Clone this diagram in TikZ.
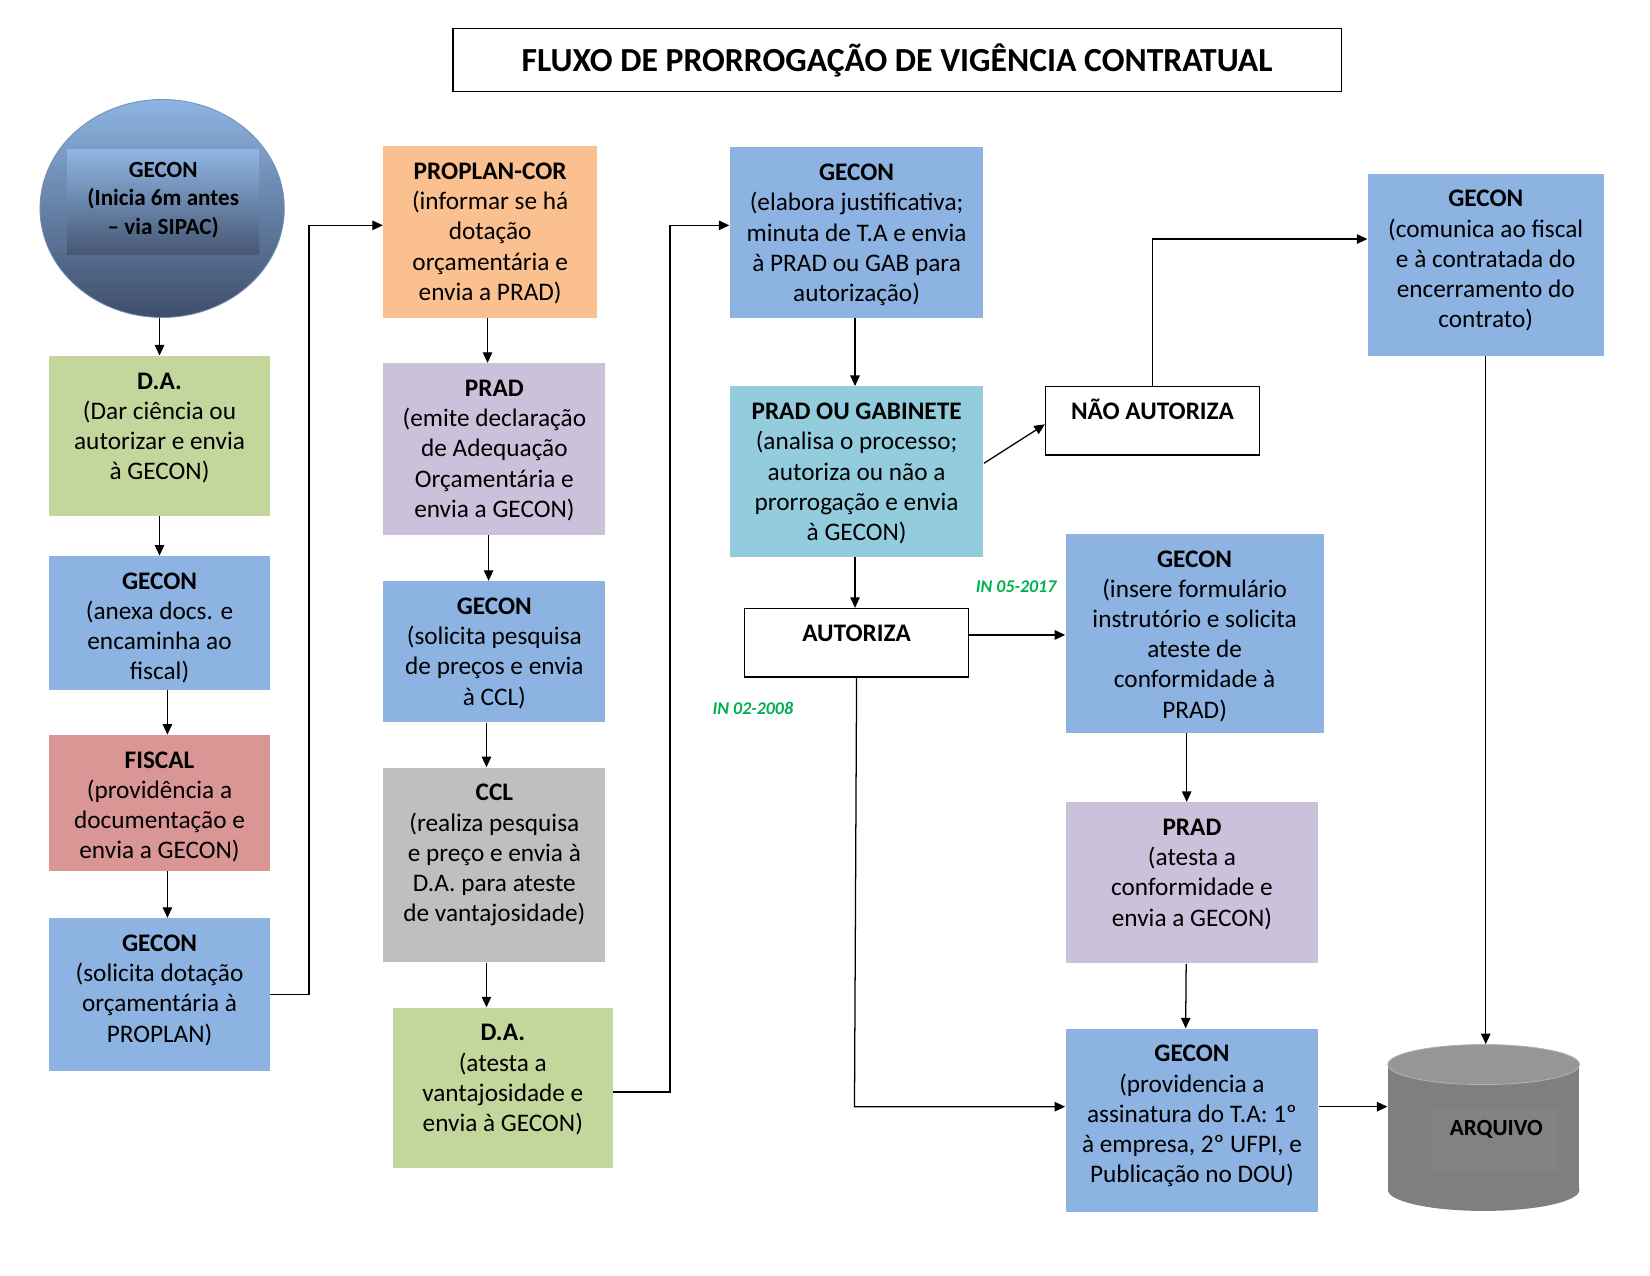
\documentclass[tikz,border=0pt]{standalone}
\usepackage{fontspec}
\setmainfont{Carlito}
\usetikzlibrary{arrows.meta,fit,shapes.geometric}
\definecolor{cblue}{HTML}{8DB3E2}
\definecolor{cgreen}{HTML}{C3D69B}
\definecolor{cred}{HTML}{D99694}
\definecolor{corange}{HTML}{FAC090}
\definecolor{cpurple}{HTML}{CCC1DA}
\definecolor{cgray}{HTML}{BFBFBF}
\definecolor{cteal}{HTML}{93CDDD}
\definecolor{cgtxt}{HTML}{00B050}
\definecolor{cylbody}{HTML}{7F7F7F}
\definecolor{cyltop}{HTML}{969696}
\definecolor{cylin}{HTML}{828282}
\definecolor{circtop}{RGB}{141,180,226}
\definecolor{circbot}{RGB}{62,78,106}
\definecolor{recttop}{RGB}{143,182,228}
\definecolor{rectbot}{RGB}{70,86,114}
\tikzset{
  txt/.style={align=center, inner sep=0pt, font=\fontsize{12}{14.35}\selectfont},
  arr/.style={draw, line width=0.6pt, -{Triangle[length=5pt,width=4.5pt]}},
  lab/.style={inner sep=0pt, text=cgtxt, font=\fontsize{8.5}{10}\selectfont\bfseries\itshape},
}
\newcommand{\fbx}[7]{%
  \coordinate (#1a) at (#2,#3);
  \coordinate (#1b) at (#4,#5);
  \node[fit=(#1a)(#1b), inner sep=0pt, #6] (#1) {};
  \node[txt, anchor=north] (#1t) at ([yshift=-5.7pt]#1.north) {\strut#7};
}
\begin{document}
\begin{tikzpicture}[x=0.5pt, y=-0.5pt]
\useasboundingbox (0,0) rectangle (1567,1211);
\fill[white] (0,0) rectangle (1567,1211);

% title
\node[draw, line width=0.75pt, minimum width=422pt, minimum height=30pt, inner sep=0pt,
      font=\fontsize{16}{19}\selectfont\bfseries] (title) at (852,57)
      {FLUXO DE PRORROGAÇÃO DE VIGÊNCIA CONTRATUAL};

% start circle
\node[ellipse, inner sep=0pt, minimum width=116pt, minimum height=103.5pt,
      top color=circtop, bottom color=circbot, draw=circtop!80!black, line width=0.4pt] (circ) at (154,198) {};
\coordinate (ra) at (64,142);
\coordinate (rb) at (246,242);
\node[fit=(ra)(rb), inner sep=0pt, top color=recttop, bottom color=rectbot] (circr) {};
\node[align=center, inner sep=0pt, font=\fontsize{11}{13.5}\selectfont\bfseries] (circt) at (155,190)
  {GECON\\ (Inicia 6m antes\\ – via SIPAC)};

% boxes
\fbx{da1}{47}{338}{256}{490}{fill=cgreen}{\textbf{D.A.}\\ (Dar ciência ou\\ autorizar e envia\\ à GECON)}
\fbx{g1}{47}{528}{256}{655}{fill=cblue}{\textbf{GECON}\\ (anexa docs. e\\ encaminha ao\\ fiscal)}
\fbx{fis}{47}{698}{256}{827}{fill=cred}{\textbf{FISCAL}\\ (providência a\\ documentação e\\ envia a GECON)}
\fbx{g2}{47}{872}{256}{1017}{fill=cblue}{\textbf{GECON}\\ (solicita dotação\\ orçamentária à\\ PROPLAN)}
\fbx{pro}{364}{139}{567}{302}{fill=corange}{\textbf{PROPLAN-COR}\\ (informar se há\\ dotação\\ orçamentária e\\ envia a PRAD)}
\fbx{prada}{364}{345}{575}{508}{fill=cpurple}{\textbf{PRAD}\\ (emite declaração\\ de Adequação\\ Orçamentária e\\ envia a GECON)}
\fbx{g3}{364}{552}{575}{686}{fill=cblue}{\textbf{GECON}\\ (solicita pesquisa\\ de preços e envia\\ à CCL)}
\fbx{ccl}{364}{729}{575}{914}{fill=cgray}{\textbf{CCL}\\ (realiza pesquisa\\ e preço e envia à\\ D.A. para ateste\\ de vantajosidade)}
\fbx{da2}{373}{957}{582}{1109}{fill=cgreen}{\textbf{D.A.}\\ (atesta a\\ vantajosidade e\\ envia à GECON)}
\fbx{g4}{693}{140}{934}{302}{fill=cblue}{\textbf{GECON}\\ (elabora justificativa;\\ minuta de T.A e envia\\ à PRAD ou GAB para\\ autorização)}
\fbx{pg}{693}{367}{934}{529}{fill=cteal}{\textbf{PRAD OU GABINETE}\\ (analisa o processo;\\ autoriza ou não a\\ prorrogação e envia\\ à GECON)}
\fbx{nao}{993}{367}{1196}{432}{draw, line width=0.7pt}{\textbf{NÃO AUTORIZA}}
\fbx{aut}{707}{578}{920}{643}{draw, line width=0.7pt}{\textbf{AUTORIZA}}
\fbx{g6}{1012}{507}{1257}{696}{fill=cblue}{\textbf{GECON}\\ (insere formulário\\ instrutório e solicita\\ ateste de\\ conformidade à\\ PRAD)}
\fbx{pradb}{1012}{762}{1252}{915}{fill=cpurple}{\textbf{PRAD}\\ (atesta a\\ conformidade e\\ envia a GECON)}
\fbx{g8}{1012}{977}{1252}{1151}{fill=cblue}{\textbf{GECON}\\ (providencia a\\ assinatura do T.A: 1º\\ à empresa, 2º UFPI, e\\ Publicação no DOU)}
\fbx{g5}{1299}{165}{1523}{338}{fill=cblue}{\textbf{GECON}\\ (comunica ao fiscal\\ e à contratada do\\ encerramento do\\ contrato)}

% cylinder ARQUIVO
\fill[cylbody] (1318,1011) rectangle (1500,1130);
\fill[cylbody] (1409,1130) ellipse [x radius=45.5pt, y radius=10pt];
\filldraw[fill=cyltop, draw=gray!60, line width=0.4pt] (1409,1011) ellipse [x radius=45.5pt, y radius=9.5pt];
\fill[cylin] (1361,1051) rectangle (1480,1113);
\coordinate (cya) at (1318,992);
\coordinate (cyb) at (1500,1150);
\node[fit=(cya)(cyb), inner sep=0pt] (arq) {};
\node[inner sep=0pt, font=\fontsize{11}{13}\selectfont\bfseries] (arqt) at (1421,1073) {ARQUIVO};

% labels
\node[lab] (in1) at (965,557) {IN 05-2017};
\node[lab] (in2) at (715,673) {IN 02-2008};

% connectors
\coordinate (g8in) at ([yshift=6.5pt]g8.west);
\coordinate (g8out) at ([yshift=6.5pt]g8.east);
\draw[arr] (da1.north |- circ.south) -- (da1.north);
\draw[arr] (da1.south) -- (g1.north);
\draw[arr] ([xshift=3.75pt]g1.south) -- ([xshift=3.75pt]fis.north);
\draw[arr] ([xshift=3.75pt]fis.south) -- ([xshift=3.75pt]g2.north);
\draw[arr] (g2.east) -- ++(37,0) |- ([yshift=3.25pt]pro.west);
\draw[arr] ([xshift=-1.25pt]pro.south) -- ([xshift=-1.25pt]pro.south |- prada.north);
\draw[arr] ([xshift=-2.75pt]prada.south) -- ([xshift=-2.75pt]g3.north);
\draw[arr] ([xshift=-3.75pt]g3.south) -- ([xshift=-3.75pt]ccl.north);
\draw[arr] ([xshift=-3.75pt]ccl.south) -- ([xshift=-3.75pt]ccl.south |- da2.north);
\draw[arr] ([yshift=-2pt]da2.east) -- ++(54,0) |- ([yshift=3.5pt]g4.west);
\draw[arr] ([xshift=-0.75pt]g4.south) -- ([xshift=-0.75pt]pg.north);
\draw[arr] ([yshift=4pt]pg.east) -- ([yshift=-1.75pt]nao.west);
\draw[arr] (nao.north) |- ([yshift=12.25pt]g5.west);
\draw[arr] ([xshift=-0.75pt]pg.south) -- ([xshift=-0.75pt]aut.north);
\draw[arr] ([yshift=3.75pt]aut.east) -- ([yshift=3.75pt]aut.east -| g6.west);
\draw[arr] (aut.south) -- ([xshift=-1pt]aut.south |- g8in) -- (g8in);
\draw[arr] ([xshift=-3.75pt]g6.south) -- ([xshift=-3.75pt]g6.south |- pradb.north);
\draw[arr] ([xshift=-2.75pt]pradb.south) -- ([xshift=-3pt]g8.north);
\draw[arr] (g8out) -- (g8out -| arq.west);
\draw[arr] (g5.south) -- (g5.south |- arq.north);
\end{tikzpicture}
\end{document}
